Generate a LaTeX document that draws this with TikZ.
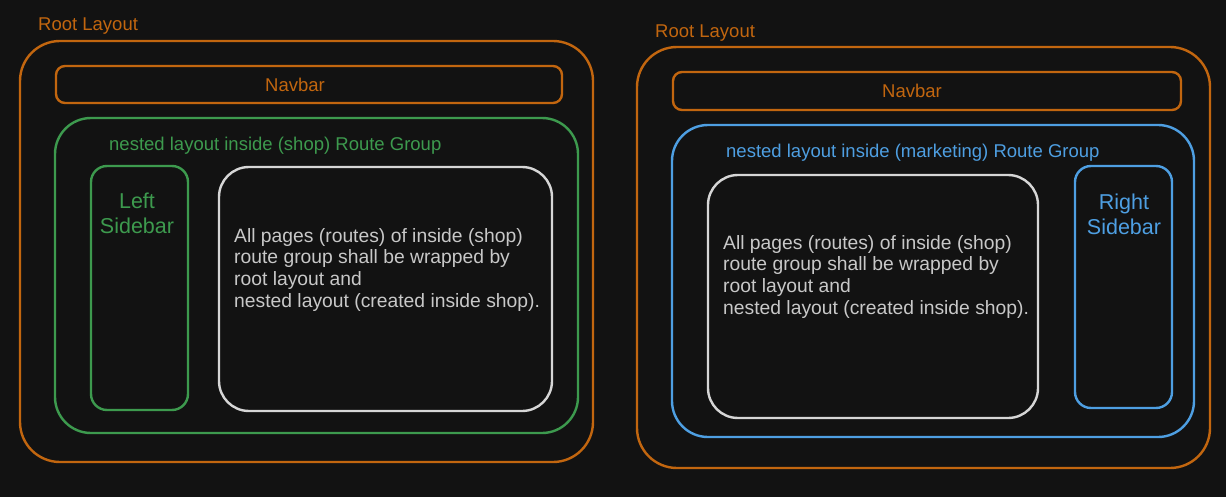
\documentclass[tikz,border=0pt]{standalone}
\usepackage{fontspec}
\setmainfont{Liberation Sans}
\definecolor{bg}{HTML}{121212}
\definecolor{org}{HTML}{C2660F}
\definecolor{grn}{HTML}{3D9A4E}
\definecolor{blu}{HTML}{4E9FE2}
\definecolor{wht}{HTML}{D6D6D6}
\definecolor{txt}{HTML}{C8C8C8}
\tikzset{
  box/.style={draw, line width=2.4pt, inner sep=0pt, fill=none},
  lbl/.style={inner sep=0pt, font=\fontsize{18.5}{22}\selectfont},
  body/.style={inner sep=0pt, align=left, anchor=north west, font=\fontsize{19.3}{21.8}\selectfont},
  big/.style={inner sep=0pt, align=center, font=\fontsize{21.5}{25}\selectfont},
}
\begin{document}
\begin{tikzpicture}[x=1pt,y=-1pt]
\fill[bg] (0,0) rectangle (1226,497);
\useasboundingbox (0,0) rectangle (1226,497);
% ---------- left ----------
\node[lbl, text=org, anchor=west] (tL) at (38,26) {Root Layout};
\node[box, draw=org, rounded corners=40pt, minimum width=573pt, minimum height=421pt] (rootL) at (306.5,251.5) {};
\node[box, draw=org, rounded corners=9pt, minimum width=506pt, minimum height=37pt] (navL) at (309,84.5) {};
\node[lbl, text=org] (navLt) at (295,84.5) {Navbar};
\node[box, draw=grn, rounded corners=36pt, minimum width=523pt, minimum height=315pt] (grpL) at (316.5,275.5) {};
\node[lbl, text=grn, anchor=west] (grpLt) at (109,146) {nested layout inside (shop) Route Group};
\node[box, draw=grn, rounded corners=16pt, minimum width=97pt, minimum height=244pt] (sideL) at (139.5,288) {};
\node[big, text=grn] (sideLt) at (137,213) {Left\\Sidebar};
\node[box, draw=wht, rounded corners=30pt, minimum width=333pt, minimum height=244pt] (pageL) at (385.5,289) {};
\node[body, text=txt] (pageLt) at (234,228) {All pages (routes) of inside (shop)\\route group shall be wrapped by\\root layout and\\nested layout (created inside shop).};
% ---------- right ----------
\node[lbl, text=org, anchor=west] (tR) at (655,33) {Root Layout};
\node[box, draw=org, rounded corners=40pt, minimum width=573pt, minimum height=421pt] (rootR) at (923.5,257.5) {};
\node[box, draw=org, rounded corners=9pt, minimum width=508pt, minimum height=38pt] (navR) at (927,91) {};
\node[lbl, text=org] (navRt) at (912,91) {Navbar};
\node[box, draw=blu, rounded corners=36pt, minimum width=522pt, minimum height=312pt] (grpR) at (933,281) {};
\node[lbl, text=blu, anchor=west] (grpRt) at (726,153) {nested layout inside (marketing) Route Group};
\node[box, draw=wht, rounded corners=30pt, minimum width=330pt, minimum height=243pt] (pageR) at (873,296.5) {};
\node[body, text=txt] (pageRt) at (723,235) {All pages (routes) of inside (shop)\\route group shall be wrapped by\\root layout and\\nested layout (created inside shop).};
\node[box, draw=blu, rounded corners=16pt, minimum width=97pt, minimum height=242pt] (sideR) at (1123.5,287) {};
\node[big, text=blu] (sideRt) at (1124,214) {Right\\Sidebar};
\end{tikzpicture}
\end{document}
